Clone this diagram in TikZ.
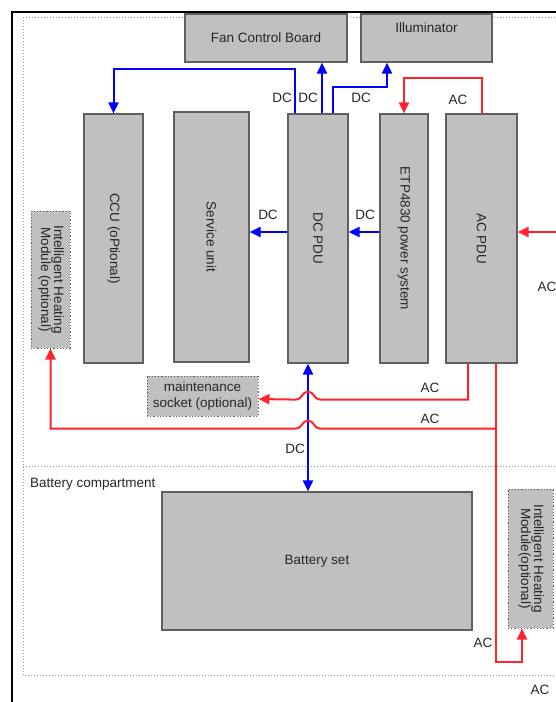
\documentclass[tikz,border=0pt]{standalone}
\usepackage{fontspec}
\setmainfont{Liberation Sans}
\usetikzlibrary{arrows.meta,calc}
\definecolor{boxfill}{RGB}{192,192,192}
\definecolor{boxline}{RGB}{95,95,95}
\definecolor{dcblue}{RGB}{0,0,255}
\definecolor{acred}{RGB}{255,35,45}
\definecolor{dotgray}{RGB}{150,150,150}
\begin{document}
\begin{tikzpicture}[x=1pt,y=-1pt,
  every node/.style={font=\fontsize{13.5}{15}\selectfont, text=black!85},
  box/.style={draw=boxline, fill=boxfill, line width=1.2pt, inner sep=0pt},
  optbox/.style={box, dotted, line width=1pt},
  dcline/.style={draw=dcblue, line width=2pt},
  dcarrow/.style={dcline, -{Triangle[length=11pt,width=10pt]}},
  dcboth/.style={dcline, {Triangle[length=11pt,width=10pt]}-{Triangle[length=11pt,width=10pt]}},
  acline/.style={draw=acred, line width=2pt},
  acarrow/.style={acline, -{Triangle[length=11pt,width=10pt]}},
  lbl/.style={inner sep=0pt},
]
\useasboundingbox (0,0) rectangle (556,702);
\clip (0,0) rectangle (556,702);

% frames
\draw[dotgray, dotted, line width=1pt] (23,17) rectangle (600,675);
\draw[dotgray, dotted, line width=1pt] (23,466) -- (600,466);
\draw[black, line width=2pt] (12,702) -- (12,12) -- (556,12);
\node[lbl, anchor=west] (bcomp) at (30,484) {Battery compartment};

% boxes
\node[box, minimum width=162pt, minimum height=48pt] (fan) at (266,38) {Fan Control Board};
\node[box, minimum width=131pt, minimum height=48pt,
      label={[lbl, yshift=10pt]center:Illuminator}] (illum) at (426.5,38) {};
\node[box, minimum width=59pt, minimum height=249pt] (ccu) at (113.5,238.5) {\rotatebox{-90}{CCU (oPtional)}};
\node[box, minimum width=75pt, minimum height=250pt] (svc) at (211.5,237) {\rotatebox{-90}{Service unit}};
\node[box, minimum width=60pt, minimum height=249pt] (dcpdu) at (318,238.5) {\rotatebox{-90}{DC PDU}};
\node[box, minimum width=48pt, minimum height=249pt] (etp) at (404,238.5) {\rotatebox{-90}{ETP4830 power system}};
\node[box, minimum width=71pt, minimum height=249pt] (acpdu) at (481.5,238.5) {\rotatebox{-90}{AC PDU}};
\node[optbox, minimum width=39pt, minimum height=137pt] (ihm1) at (50.5,279.5)
  {\rotatebox{-90}{\begin{tabular}{@{}c@{}}Intelligent Heating\\[-2pt]Module (optional)\end{tabular}}};
\node[optbox, minimum width=111pt, minimum height=40pt, align=center] (socket) at (202.5,396)
  {maintenance\\[1pt]socket (optional)};
\node[box, minimum width=310pt, minimum height=138pt] (battery) at (317,561) {Battery set};
\node[optbox, minimum width=45pt, minimum height=139pt] (ihm2) at (530.5,558.5)
  {\rotatebox{-90}{\begin{tabular}{@{}c@{}}Intelligent Heating\\[-2pt]Module(optional)\end{tabular}}};

% helper coordinates
\coordinate (d1) at ($(dcpdu.north)+(-23,0)$);
\coordinate (d2) at ($(dcpdu.north)+(4,0)$);
\coordinate (d3) at ($(dcpdu.north)+(15,0)$);
\coordinate (i1) at ($(illum.south)+(-39.5,0)$);
\coordinate (e1) at ($(etp.west)+(0,-6.5)$);
\coordinate (p1) at ($(dcpdu.west)+(0,-6.5)$);
\coordinate (b1) at ($(dcpdu.south)+(-10,0)$);
\coordinate (a1) at ($(acpdu.south)+(-13.5,0)$);
\coordinate (a2) at ($(acpdu.south)+(14.5,0)$);
\coordinate (h2) at ($(ihm2.south)+(-8.5,0)$);
\coordinate (sk) at ($(socket.east)+(0,3)$);
\coordinate (acin) at (560,232);

% DC connectors
\draw[dcarrow] (d1) -- ++(0,-44) -| (ccu.north);
\draw[dcarrow] (d2) -- (d2 |- fan.south);
\draw[dcarrow] (d3) -- ++(0,-26) -| (i1);
\draw[dcarrow] (e1) -- (e1 -| dcpdu.east);
\draw[dcarrow] (p1) -- (p1 -| svc.east);
\draw[dcboth] (b1) -- (b1 |- battery.north);

% AC connectors
\draw[acarrow] (acpdu.north) -- ++(0,-35) -| (etp.north);
\draw[acarrow] (acin) -- (acin -| acpdu.east);
\draw[acarrow] (a1) -- ++(0,36) -- ($(b1)+(12,36)$)
  .. controls +(-6,0) and +(6,0) .. ++(-12,-8)
  .. controls +(-6,0) and +(6,0) .. ++(-12,8) -- (sk);
\draw[acarrow] (a2) -- ++(0,298) -| (h2);
\draw[acarrow] ($(a2)+(0,65)$) -- ($(b1)+(12,65)$)
  .. controls +(-6,0) and +(6,0) .. ++(-12,-8)
  .. controls +(-6,0) and +(6,0) .. ++(-12,8) -| (ihm1.south);

% labels
\node[lbl] (ldc1) at (282,98) {DC};
\node[lbl] (ldc2) at (308,98) {DC};
\node[lbl] (ldc3) at (361,98) {DC};
\node[lbl] (ldc4) at (268,215) {DC};
\node[lbl] (ldc5) at (365,215) {DC};
\node[lbl] (ldc6) at (295,449) {DC};
\node[lbl] (lac1) at (458,100) {AC};
\node[lbl] (lac2) at (430,388) {AC};
\node[lbl] (lac3) at (430,419) {AC};
\node[lbl] (lac4) at (547,287) {AC};
\node[lbl] (lac5) at (483,643) {AC};
\node[lbl] (lac6) at (540,690) {AC};
\end{tikzpicture}
\end{document}
